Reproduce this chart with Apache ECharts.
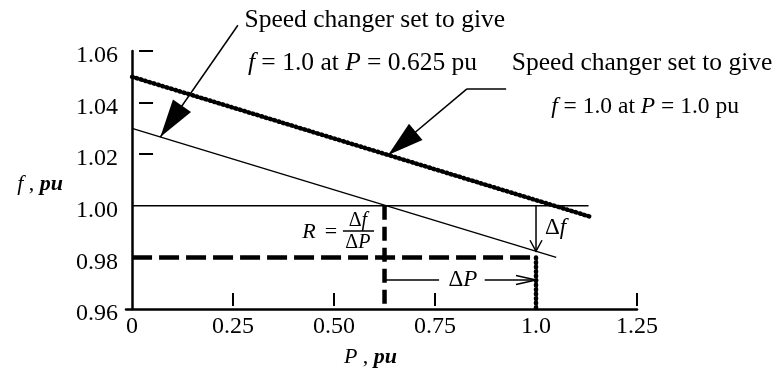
<!DOCTYPE html>
<html>
<head>
<meta charset="utf-8">
<script src="https://cdn.jsdelivr.net/npm/echarts@6/dist/echarts.min.js"></script>
<style>
  html, body { margin: 0; padding: 0; background: #fff; }
  #chart { width: 776px; height: 370px; }
</style>
</head>
<body>
<div id="chart"></div>
<script>
// Axis ticks and their printed labels
const pTickValues = [0, 0.25, 0.5, 0.75, 1.0, 1.25];
const pTickLabels = ['0', '0.25', '0.50', '0.75', '1.0', '1.25'];
const pTickMarks = [0.25, 0.5, 0.75, 1.25];
const fTickValues = [0.96, 0.98, 1.00, 1.02, 1.04, 1.06];
const fTickLabels = ['0.96', '0.98', '1.00', '1.02', '1.04', '1.06'];
const fTickMarks = [1.02, 1.04, 1.06];

// Governor characteristic with the speed changer set for f = 1.0 at P = 0.625 pu
const lowSetP = [0, 1.05];
const lowSetF = [1.03, 0.98];
// Governor characteristic with the speed changer set for f = 1.0 at P = 1.0 pu
const highSetP = [0, 1.14];
const highSetF = [1.05, 0.9955];
// Nominal frequency line
const nominalP = [0, 1.13];
const nominalF = [1.00, 1.00];
// Operating points: (0.625, 1.00) before and (1.0, 0.98) after the load change
const opP = [0.625, 1.0];
const opF = [1.00, 0.98];

const FONT = 'Liberation Serif';
const zip = (xs, ys) => xs.map((x, i) => [x, ys[i]]);
const fmt = (vals, labels) => v => {
  const i = vals.findIndex(t => Math.abs(t - v) < 1e-9);
  return i < 0 ? '' : labels[i];
};
// frequency read along a straight characteristic
const fOn = (xs, ys, p) => ys[0] + (ys[1] - ys[0]) * (p - xs[0]) / (xs[1] - xs[0]);

const chart = echarts.init(document.getElementById('chart'), null, { renderer: 'canvas' });

function arrowHead(from, tip, len, half, filled) {
  const dx = tip[0] - from[0], dy = tip[1] - from[1];
  const d = Math.hypot(dx, dy);
  const ux = dx / d, uy = dy / d;
  const bx = tip[0] - ux * len, by = tip[1] - uy * len;
  const a = [bx - uy * half, by + ux * half];
  const b = [bx + uy * half, by - ux * half];
  if (filled) {
    return { type: 'polygon', shape: { points: [tip, a, b] }, style: { fill: '#000' } };
  }
  return { type: 'polyline', shape: { points: [a, tip, b] }, style: { stroke: '#000', lineWidth: 1.5, fill: null } };
}

function text(pt, str, size, align) {
  return {
    type: 'text', x: pt[0], y: pt[1],
    style: {
      text: str, fontFamily: FONT, fontSize: size, fill: '#000',
      align: align, verticalAlign: 'middle',
      rich: {
        i: { fontFamily: FONT, fontSize: size, fontStyle: 'italic', fill: '#000' }
      }
    }
  };
}

function renderNotes(params, api) {
  const c = (p, f) => api.coord([p, f]);
  const kids = [];
  const seg = (a, b, w) => kids.push({ type: 'line', shape: { x1: a[0], y1: a[1], x2: b[0], y2: b[1] }, style: { stroke: '#000', lineWidth: w } });

  // headings
  kids.push(text(c(0.601, 1.072), 'Speed changer set to give', 25.5, 'center'));
  kids.push(text(c(0.5705, 1.0553), '{i|f} = 1.0 at {i|P} = 0.625 pu', 25.5, 'center'));
  kids.push(text(c(0.94, 1.0553), 'Speed changer set to give', 25.5, 'left'));
  kids.push(text(c(1.27, 1.0383), '{i|f} = 1.0 at {i|P} = 1.0 pu', 23.5, 'center'));

  // leader to the lower characteristic
  const s1 = c(0.262, 1.070);
  const t1 = c(0.07, fOn(lowSetP, lowSetF, 0.07));
  seg(s1, t1, 1.5);
  kids.push(arrowHead(s1, t1, 38, 11, true));

  // leader to the upper characteristic
  const s2a = c(0.926, 1.0453), s2b = c(0.829, 1.0453);
  const t2 = c(0.634, fOn(highSetP, highSetF, 0.634));
  seg(s2a, s2b, 1.5);
  seg(s2b, t2, 1.5);
  kids.push(arrowHead(s2b, t2, 36, 10.5, true));

  // frequency drop arrow
  const d1 = c(opP[1], opF[0]);
  const d2 = c(opP[1], fOn(lowSetP, lowSetF, opP[1]));
  seg(d1, d2, 1.5);
  kids.push(arrowHead(d1, d2, 11, 6, false));
  kids.push(text(c(1.022, 0.9914), 'Δ{i|f}', 23, 'left'));

  // load change arrow
  const yP = 0.9712;
  seg(c(opP[0], yP), c(0.76, yP), 1.5);
  const r1 = c(0.873, yP), r2 = c(opP[1], yP);
  seg(r1, r2, 1.5);
  kids.push(arrowHead(r1, r2, 20, 4.5, false));
  kids.push(text(c(0.819, yP), 'Δ{i|P}', 23, 'center'));

  // regulation R = Δf / ΔP
  kids.push(text(c(0.438, 0.9898), '{i|R}', 22, 'center'));
  kids.push(text(c(0.4926, 0.9898), '=', 22, 'center'));
  kids.push(text(c(0.559, 0.9941), 'Δ{i|f}', 20, 'center'));
  seg(c(0.522, 0.9902), c(0.599, 0.9902), 1.5);
  kids.push(text(c(0.559, 0.9858), 'Δ{i|P}', 20, 'center'));

  return { type: 'group', children: kids };
}

const beaded = { color: '#000', width: 4.5, type: [1, 3.5], cap: 'round' };
const lineSeries = (data, style) => ({
  type: 'line', data: data, symbol: 'none', silent: true, animation: false,
  lineStyle: style, z: 3
});

const nameStyle = size => ({
  fontFamily: FONT, fontSize: size, color: '#000',
  rich: {
    i: { fontFamily: FONT, fontSize: size, fontStyle: 'italic', color: '#000' },
    b: { fontFamily: FONT, fontSize: size, fontStyle: 'italic', fontWeight: 'bold', color: '#000' }
  }
});

chart.setOption({
  animation: false,
  backgroundColor: '#fff',
  grid: { left: 126, top: 51, width: 511, height: 258, containLabel: false, outerBoundsMode: 'none' },
  xAxis: {
    type: 'value', min: -0.015, max: pTickValues[pTickValues.length - 1],
    name: '{i|P} , {b|pu}', nameLocation: 'middle', nameGap: 37,
    nameTextStyle: Object.assign(nameStyle(22), { padding: [0, 22, 0, 0] }),
    axisLine: { lineStyle: { color: '#000', width: 2.5 } },
    axisTick: { show: true, inside: true, length: 16, customValues: pTickMarks,
      lineStyle: { color: '#000', width: 2, type: [0, 3, 13, 40] } },
    axisLabel: { customValues: pTickValues, formatter: fmt(pTickValues, pTickLabels),
      fontFamily: FONT, fontSize: 24, color: '#000', margin: 6 },
    splitLine: { show: false }
  },
  yAxis: {
    type: 'value', min: fTickValues[0], max: fTickValues[fTickValues.length - 1],
    name: '{i|f} , {b|pu}', nameLocation: 'middle', nameRotate: 0, nameGap: 63,
    nameTextStyle: Object.assign(nameStyle(22), { padding: [0, 0, -8, 0] }),
    axisLine: { lineStyle: { color: '#000', width: 2.5 } },
    axisTick: { show: true, inside: true, length: 21, customValues: fTickMarks,
      lineStyle: { color: '#000', width: 2, type: [0, 7, 14, 40] } },
    axisLabel: { customValues: fTickValues, formatter: fmt(fTickValues, fTickLabels),
      fontFamily: FONT, fontSize: 24, color: '#000', margin: 8,
      verticalAlign: 'top', lineHeight: 10 },
    splitLine: { show: false }
  },
  series: [
    lineSeries(zip(nominalP, nominalF), { color: '#000', width: 1.5 }),
    lineSeries(zip(lowSetP, lowSetF), { color: '#000', width: 1.5 }),
    lineSeries(zip(highSetP, highSetF), beaded),
    lineSeries([[0, opF[1]], [opP[1], opF[1]]], { color: '#000', width: 4.5, type: [20, 7] }),
    lineSeries([[opP[0], opF[0]], [opP[0], fTickValues[0]]], { color: '#000', width: 4.5, type: [14, 7] }),
    lineSeries([[opP[1], opF[1]], [opP[1], fTickValues[0]]], beaded),
    {
      type: 'custom', coordinateSystem: 'cartesian2d', clip: false, silent: true,
      animation: false, z: 5, data: [[0, 1]], renderItem: renderNotes
    }
  ]
});
</script>
</body>
</html>
